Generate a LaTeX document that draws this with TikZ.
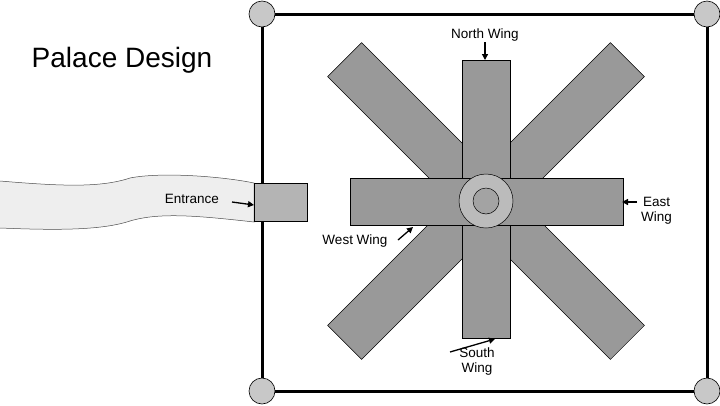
\documentclass[tikz,border=0pt]{standalone}
\usepackage{fontspec}
\setmainfont{Liberation Sans}
\usetikzlibrary{arrows.meta}
\definecolor{wingfill}{HTML}{999999}
\definecolor{hubfill}{HTML}{BBBBBB}
\definecolor{doorfill}{HTML}{B4B4B4}
\definecolor{pathfill}{HTML}{EEEEEE}
\definecolor{postfill}{HTML}{C8C8C8}
\tikzset{
    wall/.style={black,line width=3pt},
    post/.style={draw=black,fill=postfill,line width=0.6pt},
    wing/.style={draw=black,fill=wingfill,line width=0.5pt},
    lbl/.style={font=\fontsize{13.5}{15}\selectfont,align=center,inner sep=1pt},
    pointer/.style={-{Triangle[length=6pt,width=6pt]},line width=1.3pt}
}

\begin{document}
\begin{tikzpicture}[x=1pt,y=-1pt]
\useasboundingbox (0,0) rectangle (720,405);
% walkway to the door
\draw[fill=pathfill,line width=0.5pt,draw=black!70] (0,181) .. controls (60,186) and (100,188) .. (130,178)
    .. controls (160,172) and (220,176) .. (254,183) -- (254,222)
    .. controls (200,216) and (160,212) .. (130,221)
    .. controls (100,231) and (50,230) .. (0,228);
% outer wall
\draw[wall] (262,14) rectangle (707,391);
\foreach \x/\y/\n in {262/14/a,707/14/b,262/391/c,707/391/d}
    \draw[post] (\x,\y) circle (13);
% wings
\draw[wing,rotate around={45:(486,201)}] (286,177) rectangle (686,225);
\draw[wing,rotate around={-45:(486,201)}] (286,177) rectangle (686,225);
\draw[wing] (462,60) rectangle (510,338);
\draw[wing] (350,178) rectangle (623,225);
% hub
\draw[fill=hubfill,line width=0.5pt] (486,201) circle (27);
\draw[fill=wingfill!90!white,line width=0.5pt] (486,201) circle (13);
% door
\draw[fill=doorfill,line width=0.5pt] (254,183) rectangle (307,221);

\node[font=\fontsize{28}{32}\selectfont] (title) at (122,60) {Palace Design};

\node[lbl] (north) at (485,35) {North Wing};
\node[lbl,anchor=east] (entrance) at (220,199) {Entrance};
\node[lbl,anchor=west] (east) at (640,211) {East\\Wing};
\node[lbl] (west) at (355,241) {West Wing};
\node[lbl] (south) at (477,362) {South\\Wing};

\coordinate (northtip) at (485,60);
\coordinate (doortip) at (254,205);
\coordinate (easttip) at (622,202);
\coordinate (westtip) at (413,227);
\coordinate (southtip) at (495,339);

\draw[pointer] (north.south) -- (northtip);
\draw[pointer] (232,202) -- (doortip);
\draw[pointer] (637,202) -- (easttip);
\draw[pointer] (398,240) -- (westtip);
\draw[pointer] (450,352) -- (southtip);
\end{tikzpicture}
\end{document}
